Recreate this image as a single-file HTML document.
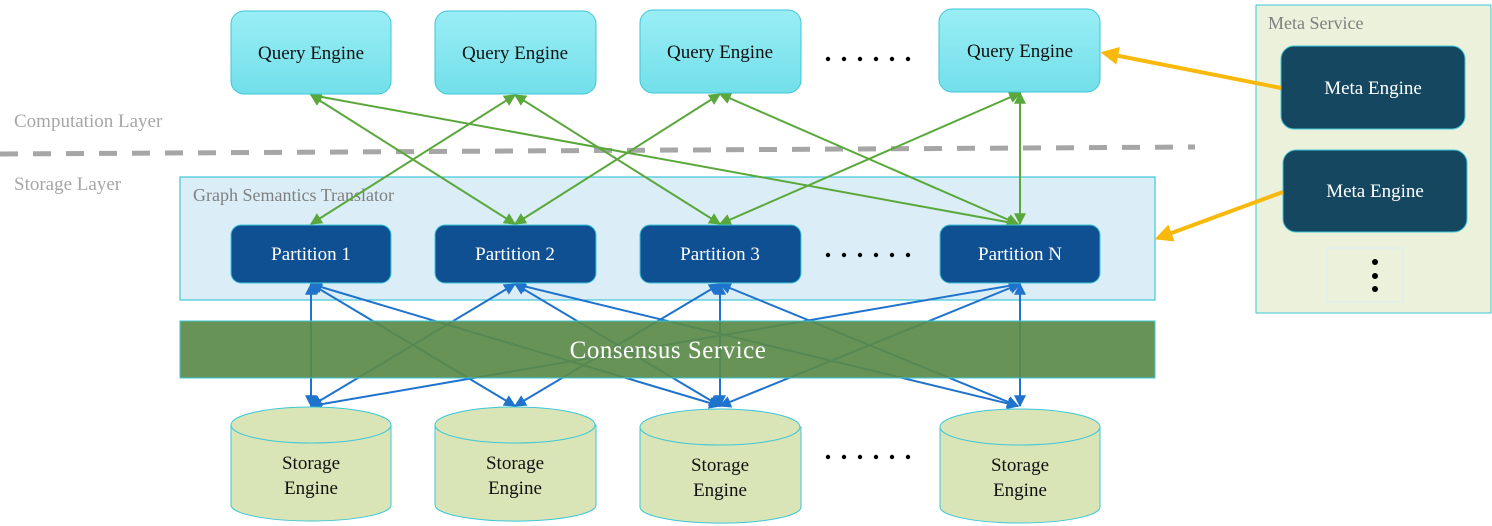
<!DOCTYPE html>
<html><head><style>
body{margin:0;background:#fff;}
svg{display:block;font-family:"Liberation Serif",serif;}
</style></head><body>
<svg width="1492" height="526" viewBox="0 0 1492 526" xmlns="http://www.w3.org/2000/svg">
<defs>
<linearGradient id="qg" x1="0" y1="0" x2="0" y2="1"><stop offset="0" stop-color="#9aeef5"/><stop offset="1" stop-color="#72dfea"/></linearGradient>
<marker id="ag" viewBox="0 0 10 10" refX="9" refY="5" markerWidth="6" markerHeight="6" orient="auto-start-reverse"><path d="M0,0L10,5L0,10z" fill="#5aa83c"/></marker>
<marker id="ab" viewBox="0 0 10 10" refX="9" refY="5" markerWidth="6" markerHeight="6" orient="auto-start-reverse"><path d="M0,0L10,5L0,10z" fill="#1f73cc"/></marker>
<marker id="ao" viewBox="0 0 10 10" refX="8" refY="5" markerWidth="4.5" markerHeight="4.5" orient="auto"><path d="M0,0L10,5L0,10z" fill="#f8b90c"/></marker>
</defs>

<text x="14" y="127" font-size="19" fill="#a6a6a6">Computation Layer</text>
<text x="14" y="190" font-size="19" fill="#a6a6a6">Storage Layer</text>
<line x1="0" y1="154" x2="1195" y2="147" stroke="#a6a6a6" stroke-width="5" stroke-dasharray="18,15"/>

<rect x="180" y="177" width="975" height="123" fill="#dbeef7" stroke="#3ec6d8" stroke-width="1.2"/>
<text x="193" y="201" font-size="18" fill="#7f7f7f">Graph Semantics Translator</text>

<rect x="1256" y="5" width="235" height="308" fill="#ebf1da" stroke="#3ec6d8" stroke-width="1"/>
<text x="1268" y="29" font-size="18" fill="#7f7f7f">Meta Service</text>
<rect x="1281" y="46" width="184" height="83" rx="13" fill="#154860" stroke="#3ec6d8"/>
<text x="1373" y="94" font-size="19" fill="#fff" text-anchor="middle">Meta Engine</text>
<rect x="1283" y="150" width="184" height="82" rx="13" fill="#154860" stroke="#3ec6d8"/>
<text x="1375" y="197" font-size="19" fill="#fff" text-anchor="middle">Meta Engine</text>
<rect x="1327" y="248" width="76" height="54" fill="none" stroke="#dbeef7"/>
<circle cx="1375" cy="262" r="3" fill="#000"/><circle cx="1375" cy="276" r="3" fill="#000"/><circle cx="1375" cy="289" r="3" fill="#000"/>

<line x1="1281" y1="88" x2="1104" y2="53" stroke="#f8b90c" stroke-width="4" marker-end="url(#ao)"/>
<line x1="1283" y1="192" x2="1158" y2="238" stroke="#f8b90c" stroke-width="4" marker-end="url(#ao)"/>

<g stroke="#5aa83c" stroke-width="2" marker-start="url(#ag)" marker-end="url(#ag)">
<line x1="311" y1="95" x2="515" y2="224"/>
<line x1="311" y1="95" x2="1018" y2="224"/>
<line x1="515" y1="95" x2="311" y2="224"/>
<line x1="515" y1="95" x2="720" y2="224"/>
<line x1="720" y1="94" x2="515" y2="224"/>
<line x1="720" y1="94" x2="1018" y2="224"/>
<line x1="1020" y1="93" x2="720" y2="224"/>
<line x1="1020" y1="93" x2="1020" y2="224"/>
</g>

<g stroke="#1f73cc" stroke-width="2" marker-start="url(#ab)" marker-end="url(#ab)">
<line x1="311" y1="284" x2="311" y2="406"/>
<line x1="311" y1="284" x2="515" y2="406"/>
<line x1="311" y1="284" x2="720" y2="406"/>
<line x1="515" y1="284" x2="311" y2="406"/>
<line x1="515" y1="284" x2="720" y2="406"/>
<line x1="515" y1="284" x2="1018" y2="406"/>
<line x1="720" y1="284" x2="515" y2="406"/>
<line x1="720" y1="284" x2="720" y2="406"/>
<line x1="720" y1="284" x2="1018" y2="406"/>
<line x1="1020" y1="284" x2="311" y2="406"/>
<line x1="1020" y1="284" x2="720" y2="406"/>
<line x1="1020" y1="284" x2="1020" y2="406"/>
</g>

<rect x="180" y="321" width="975" height="57" fill="#5a8a48" fill-opacity="0.92" stroke="#3ec6d8" stroke-width="1"/>
<text x="668" y="358" font-size="25" fill="#fff" text-anchor="middle" letter-spacing="0.5">Consensus Service</text>

<g stroke="#3ec6d8" stroke-width="1" fill="url(#qg)">
<rect x="231" y="11" width="160" height="83" rx="13"/>
<rect x="435" y="11" width="161" height="83" rx="13"/>
<rect x="640" y="10" width="161" height="83" rx="13"/>
<rect x="939" y="9" width="161" height="83" rx="13"/>
</g>
<g font-size="19" fill="#111" text-anchor="middle">
<text x="311" y="59">Query Engine</text>
<text x="515" y="59">Query Engine</text>
<text x="720" y="58">Query Engine</text>
<text x="1020" y="57">Query Engine</text>
</g>

<g stroke="#3ec6d8" stroke-width="1" fill="#0e5092">
<rect x="231" y="225" width="160" height="58" rx="10"/>
<rect x="435" y="225" width="161" height="58" rx="10"/>
<rect x="640" y="225" width="161" height="58" rx="10"/>
<rect x="940" y="225" width="160" height="58" rx="10"/>
</g>
<g font-size="19" fill="#fff" text-anchor="middle">
<text x="311" y="260">Partition 1</text>
<text x="515" y="260">Partition 2</text>
<text x="720" y="260">Partition 3</text>
<text x="1020" y="260">Partition N</text>
</g>

<g fill="#000">
<g transform="translate(828,59)"><circle cx="0" cy="0" r="2.2"/><circle cx="16" cy="0" r="2.2"/><circle cx="32" cy="0" r="2.2"/><circle cx="48" cy="0" r="2.2"/><circle cx="64" cy="0" r="2.2"/><circle cx="80" cy="0" r="2.2"/></g>
<g transform="translate(828,255)"><circle cx="0" cy="0" r="2.2"/><circle cx="16" cy="0" r="2.2"/><circle cx="32" cy="0" r="2.2"/><circle cx="48" cy="0" r="2.2"/><circle cx="64" cy="0" r="2.2"/><circle cx="80" cy="0" r="2.2"/></g>
<g transform="translate(828,457)"><circle cx="0" cy="0" r="2.2"/><circle cx="16" cy="0" r="2.2"/><circle cx="32" cy="0" r="2.2"/><circle cx="48" cy="0" r="2.2"/><circle cx="64" cy="0" r="2.2"/><circle cx="80" cy="0" r="2.2"/></g>
</g>

<g stroke="#3ec6d8" stroke-width="1" fill="#d9e5b6">
<path d="M231,425 L231,505 A80,16 0 0 0 391,505 L391,425 Z"/><ellipse cx="311" cy="425" rx="80" ry="18"/>
<path d="M435,425 L435,505 A80,16 0 0 0 596,505 L596,425 Z"/><ellipse cx="515" cy="425" rx="80" ry="18"/>
<path d="M640,427 L640,507 A80,16 0 0 0 801,507 L801,427 Z"/><ellipse cx="720" cy="427" rx="80" ry="18"/>
<path d="M940,427 L940,507 A80,16 0 0 0 1100,507 L1100,427 Z"/><ellipse cx="1020" cy="427" rx="80" ry="18"/>
</g>
<g font-size="19" fill="#111" text-anchor="middle">
<text x="311" y="469">Storage</text><text x="311" y="494">Engine</text>
<text x="515" y="469">Storage</text><text x="515" y="494">Engine</text>
<text x="720" y="471">Storage</text><text x="720" y="496">Engine</text>
<text x="1020" y="471">Storage</text><text x="1020" y="496">Engine</text>
</g>
</svg>
</body></html>
